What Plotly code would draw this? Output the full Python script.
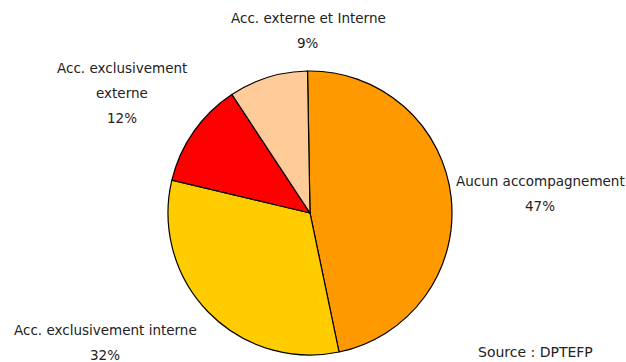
import plotly.graph_objects as go

labels = ["Aucun accompagnement", "Acc. exclusivement interne", "Acc. exclusivement externe", "Acc. externe et Interne"]
label_lines = [["Aucun accompagnement"], ["Acc. exclusivement interne"], ["Acc. exclusivement", "externe"], ["Acc. externe et Interne"]]
values = [47, 32, 12, 9]
colors = ["#FF9900", "#FFCC00", "#FF0000", "#FFCC99"]
label_pos = [(540, 181), (105, 330), (122, 68), (308, 18)]  # pixel centre of first line
source_text = "Source : DPTEFP"

W, H = 626, 362
LINE = 25
fig = go.Figure(go.Pie(
    labels=labels, values=values, sort=False, direction="clockwise", rotation=-1,
    marker=dict(colors=colors, line=dict(color="black", width=1.2)),
    textinfo="none", hoverinfo="label+percent", showlegend=False,
    domain=dict(x=[168 / W, 452 / W], y=[1 - 355 / H, 1 - 71 / H]),
))

font = dict(family="DejaVu Sans", size=13.5, color="#222")
for lines, v, (px, py) in zip(label_lines, values, label_pos):
    for i, t in enumerate(lines + [f"{v}%"]):
        fig.add_annotation(
            x=px / W, y=1 - (py + i * LINE) / H, xref="paper", yref="paper",
            text=t, showarrow=False, xanchor="center", yanchor="middle", font=font,
        )

fig.add_annotation(
    x=476 / W, y=0, xref="paper", yref="paper", text=source_text,
    showarrow=False, xanchor="left", yanchor="bottom",
    font=dict(family="DejaVu Sans", size=14, color="#222"),
)

fig.update_layout(
    width=W, height=H, margin=dict(l=0, r=0, t=0, b=0),
    paper_bgcolor="white", plot_bgcolor="white",
)
fig.write_html("out.html")
